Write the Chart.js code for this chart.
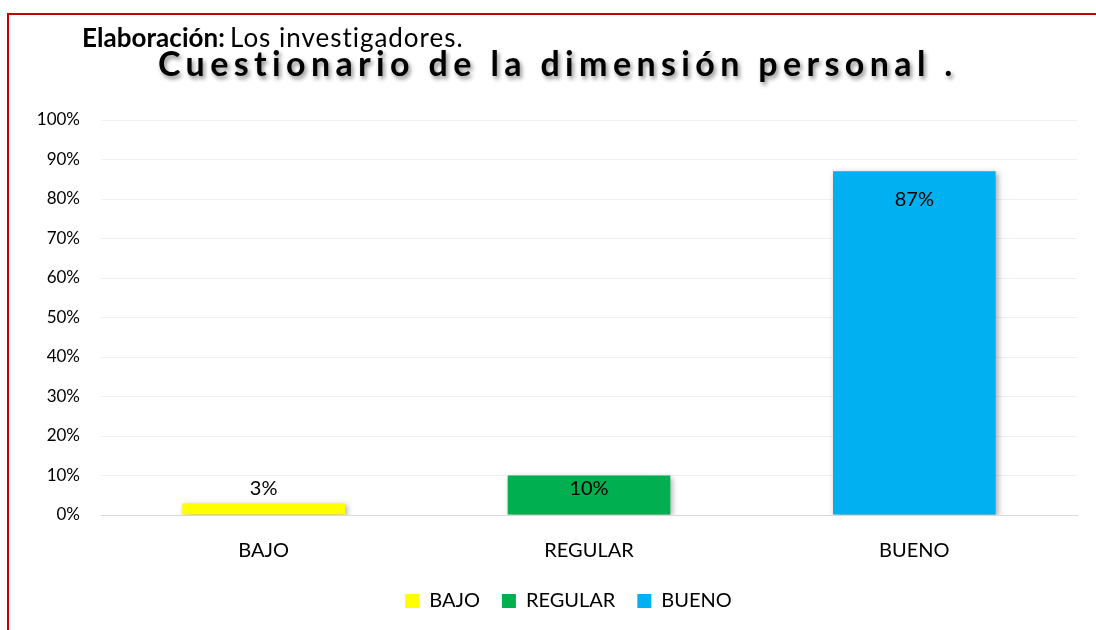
<!DOCTYPE html>
<html>
<head>
<meta charset="utf-8">
<script src="https://cdn.jsdelivr.net/npm/chart.js@4"></script>
<style>
  html,body{margin:0;padding:0;background:#fff;overflow:hidden}
  #wrap{position:absolute;left:0;top:0;width:1096px;height:630px}
  #frame{position:absolute;left:7px;top:13px;width:1100px;height:640px;border-left:2px solid #c80000;border-top:2px solid #c80000;pointer-events:none}
</style>
</head>
<body>
<div id="wrap"><canvas id="chart" width="1096" height="630"></canvas></div>
<div id="frame"></div>
<script>
  const categories = ['BAJO','REGULAR','BUENO'];
  const values = [3,10,87];
  const barColors = ['#FFFF00','#00B050','#00B0F0'];
  const yTicks = [0,10,20,30,40,50,60,70,80,90,100];

  const FONT = 'Lato, "Open Sans", sans-serif';

  // fill a given width by spreading letters
  function spacedText(ctx, txt, x, y, width){
    ctx.letterSpacing = '0px';
    const w0 = ctx.measureText(txt).width;
    ctx.letterSpacing = ((width - w0) / (txt.length - 1)) + 'px';
    ctx.fillText(txt, x, y);
    ctx.letterSpacing = '0px';
  }

  // header: subtitle + title with shadow
  const headerPlugin = {
    id:'header',
    afterDraw(chart){
      const ctx = chart.ctx;
      ctx.save();
      ctx.textBaseline = 'alphabetic';
      ctx.textAlign = 'left';
      ctx.fillStyle = '#000';
      // subtitle: bold part + regular part
      ctx.font = 'bold 26px ' + FONT;
      spacedText(ctx, 'Elaboración:', 82, 47, 143);
      ctx.font = '26px ' + FONT;
      spacedText(ctx, 'Los investigadores.', 230, 47, 233);

      // title
      ctx.font = 'bold 34px ' + FONT;
      ctx.shadowColor = 'rgba(0,0,0,0.45)';
      ctx.shadowBlur = 4;
      ctx.shadowOffsetX = 2;
      ctx.shadowOffsetY = 3;
      spacedText(ctx, 'Cuestionario de la dimensión personal .', 158, 76, 795);
      ctx.restore();
    }
  };

  // legend sits a bit right of canvas centre in the original
  const legendShift = {
    id:'legendShift',
    afterLayout(chart){
      const lg = chart.legend;
      if(!lg) return;
      lg.left += 30;
      lg.right += 30;
    }
  };

  // bar shadow
  const shadowPlugin = {
    id:'barShadow',
    beforeDatasetDraw(chart){
      const ctx = chart.ctx;
      ctx.save();
      ctx.shadowColor = 'rgba(0,0,0,0.35)';
      ctx.shadowBlur = 6;
      ctx.shadowOffsetX = 2;
      ctx.shadowOffsetY = 2;
    },
    afterDatasetDraw(chart){
      chart.ctx.restore();
    }
  };

  // data labels near the bar end
  const labelPlugin = {
    id:'valueLabels',
    afterDatasetsDraw(chart){
      const ctx = chart.ctx;
      const meta = chart.getDatasetMeta(0);
      ctx.save();
      ctx.font = '20px ' + FONT;
      ctx.fillStyle = '#000';
      ctx.textAlign = 'center';
      ctx.textBaseline = 'middle';
      meta.data.forEach((bar, i) => {
        const y = Math.min(bar.y + 28, bar.base - 26);
        ctx.fillText(values[i] + '%', bar.x, y);
      });
      ctx.restore();
    }
  };

  new Chart(document.getElementById('chart'), {
    type:'bar',
    data:{
      labels:categories,
      datasets:[{
        data:values,
        backgroundColor:barColors,
        borderWidth:0,
        barPercentage:0.5,
        categoryPercentage:1
      }]
    },
    options:{
      responsive:false,
      animation:false,
      layout:{ padding:{ top:120, left:0, right:19, bottom:9 } },
      plugins:{
        legend:{
          display:true,
          position:'bottom',
          labels:{
            color:'#000',
            font:{ family:FONT, size:20 },
            boxWidth:14,
            boxHeight:14,
            padding:22,
            generateLabels(){
              return categories.map((c, i) => ({
                text:c, fillStyle:barColors[i], strokeStyle:barColors[i], lineWidth:0, index:i
              }));
            }
          }
        },
        tooltip:{ enabled:false }
      },
      scales:{
        x:{
          afterFit(scale){ scale.height = 54; },
          grid:{ display:false, drawTicks:false },
          border:{ display:true, color:'#d9d9d9' },
          ticks:{ color:'#000', font:{ family:FONT, size:20 }, padding:24 }
        },
        y:{
          min:0, max:100,
          afterBuildTicks(scale){ scale.ticks = yTicks.map(v => ({ value:v })); },
          afterFit(scale){ scale.width = 101; },
          grid:{ color:'#f0f0f0', drawTicks:false },
          border:{ display:false },
          ticks:{ color:'#000', font:{ family:FONT, size:17 }, padding:21,
                  callback:(v) => v + '%' }
        }
      }
    },
    plugins:[legendShift, shadowPlugin, labelPlugin, headerPlugin]
  });
</script>
</body>
</html>
